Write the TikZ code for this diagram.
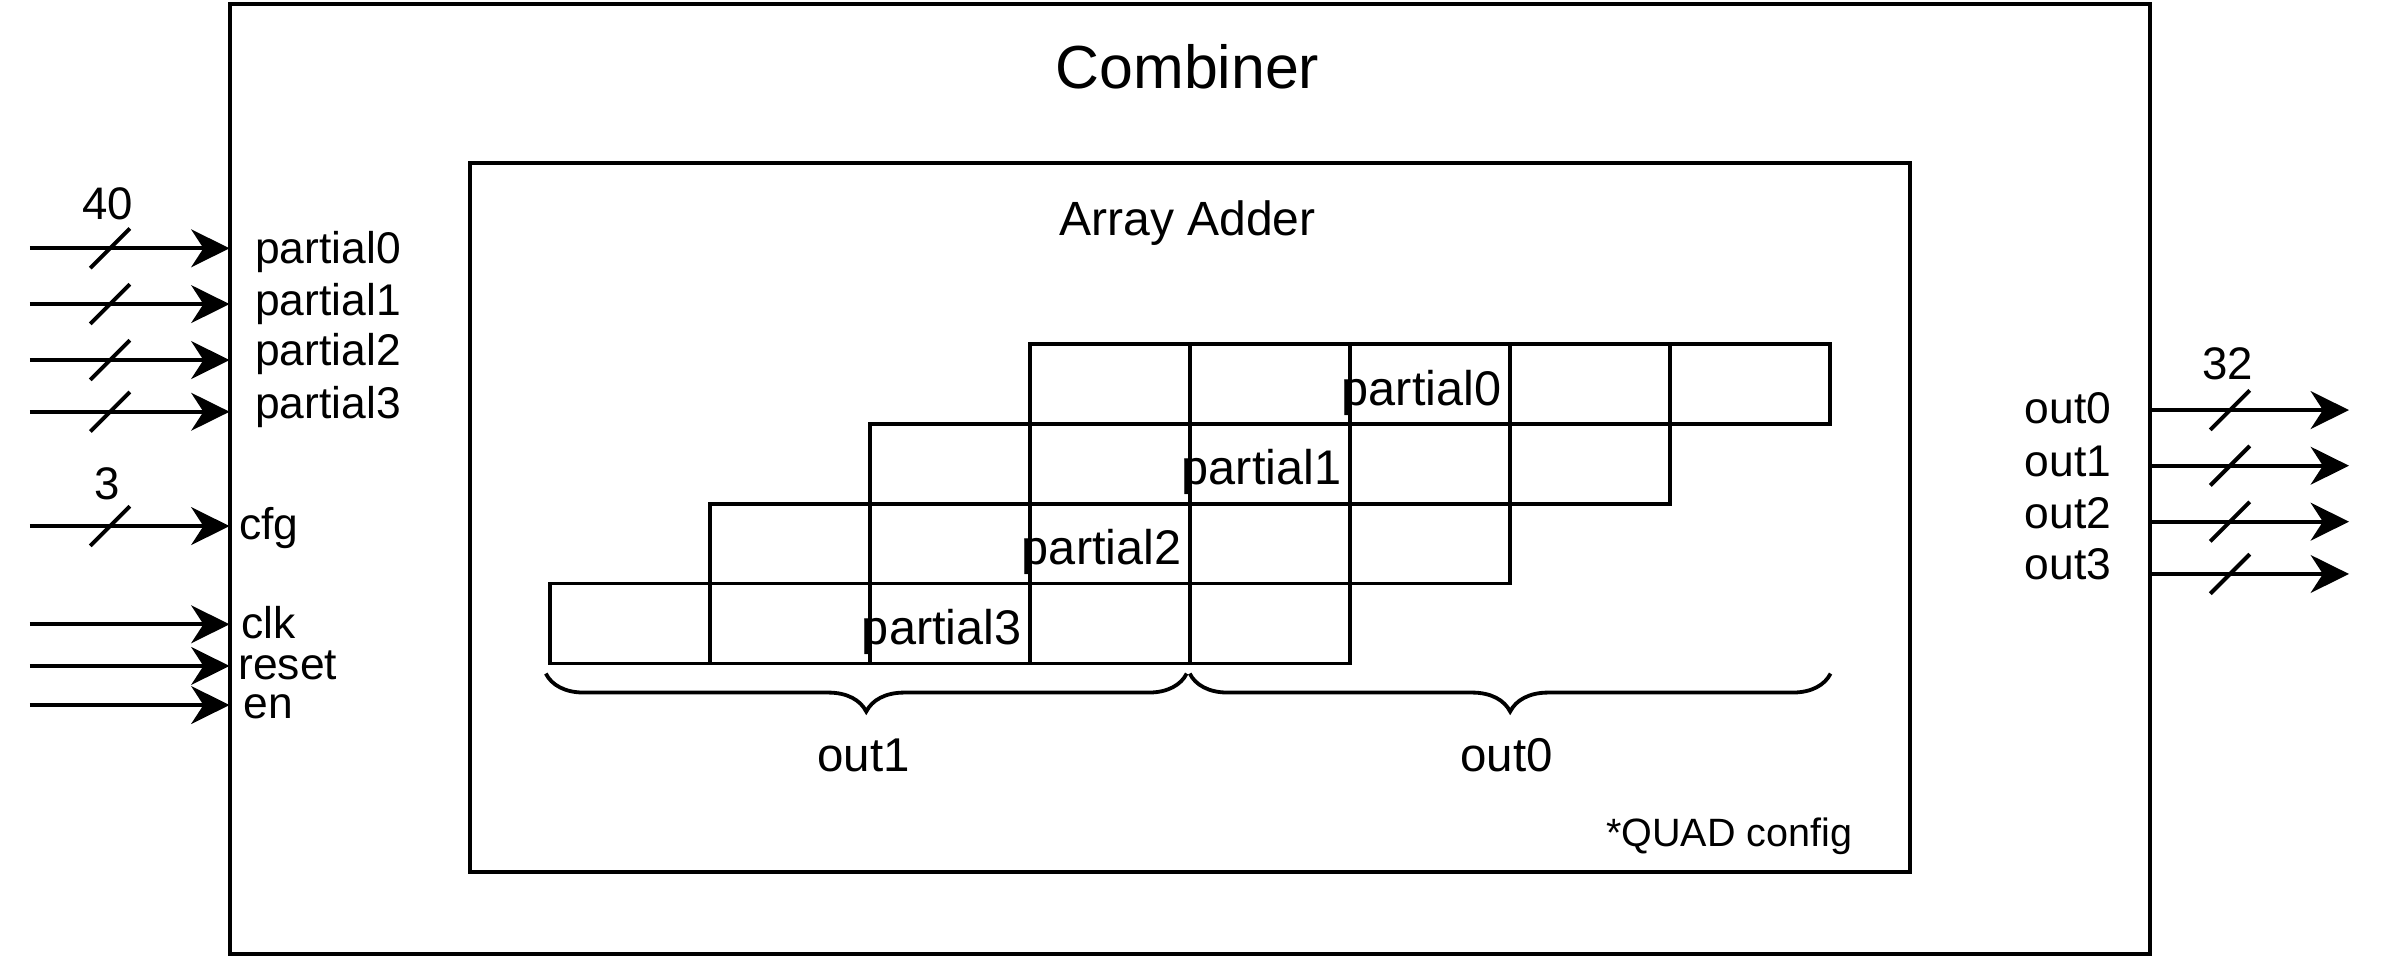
\documentclass[tikz,border=0pt]{standalone}
\usepackage{fontspec}
\setmainfont{Liberation Sans}
\usetikzlibrary{arrows.meta,decorations.pathreplacing}

\begin{document}
\begin{tikzpicture}[
    x=0.5pt, y=-0.5pt,
    box/.style={rectangle, draw=black, line width=1.3pt, inner sep=0pt, outer sep=0pt},
    cell/.style={rectangle, draw=black, line width=1.2pt, minimum width=52.6pt, minimum height=26.25pt, inner sep=0pt, outer sep=0pt},
    wire/.style={-{Stealth[length=12.6pt, width=12.4pt, inset=4pt]}, line width=1.3pt},
    slash/.style={line width=1.3pt},
    brace/.style={decorate, decoration={brace, amplitude=12.5pt}, line width=1.25pt},
    lbl/.style={font=\fontsize{14.6pt}{17pt}\selectfont, inner sep=0pt},
    num/.style={font=\fontsize{15pt}{17pt}\selectfont, inner sep=0pt},
    celltext/.style={font=\fontsize{16pt}{19pt}\selectfont, inner sep=0pt}
]
    \useasboundingbox (0,0) rectangle (1568,628.8);

    % Outer block: Combiner
    \node [box, minimum width=631.5pt, minimum height=312.6pt] (comb) at (782.5,315.1) {};
    \node [anchor=base, inner sep=0pt, font=\fontsize{20pt}{24pt}\selectfont] (combtitle) at (781,58.5) {Combiner};

    % Inner block: Array Adder
    \node [box, minimum width=473.65pt, minimum height=233.05pt] (adder) at (782.65,340.25) {};
    \node [anchor=base, inner sep=0pt, font=\fontsize{15.8pt}{19pt}\selectfont] (addertitle) at (781,154.6) {Array Adder};

    % Shifted rows of partial sums
    \foreach \r in {0,...,3}
        \foreach \c in {0,...,4}
            \node [cell] (c\r\c) at ({361.9+105.2*(3-\r+\c)+52.6},{226.3+52.5*\r+26.25}) {};
    \foreach \r in {0,...,3}
        \node [celltext, anchor=base] (pl\r) at ({361.9+105.2*(5-\r)+47.1},{226.3+52.5*\r+40.1}) {partial\r};

    % Output halves
    \draw [brace] (780.5,443) -- (359,443);
    \draw [brace] (1204,443) -- (782.5,443);
    \node [celltext, anchor=base, font=\fontsize{15.6pt}{19pt}\selectfont] (bo1) at (568,507.5) {out1};
    \node [celltext, anchor=base, font=\fontsize{15.6pt}{19pt}\selectfont] (bo0) at (991,507.5) {out0};
    \node [anchor=base east, inner sep=0pt, font=\fontsize{13pt}{15pt}\selectfont] (quad) at (1218.6,557) {*QUAD config};

    % Inputs
    \foreach \n/\y/\lx/\ly/\t in {ip0/163.3/167.4/173/partial0, ip1/200/167.4/207.2/partial1, ip2/236.8/167.4/240.6/partial2, ip3/270.8/167.4/275.1/partial3, icfg/346/156.8/354.7/cfg, iclk/410.6/158.5/420/clk, irst/438/156.4/446.8/reset, ien/463.7/159.9/472.5/en} {
        \coordinate (\n) at (19.7,\y);
        \node [lbl, anchor=base west] (l\n) at (\lx,\ly) {\t};
        \draw [wire] (\n) -- (comb.west |- \n);
    }
    \foreach \y in {163.3,200,236.8,270.8,346}
        \draw [slash] (59.4,{\y+13}) -- (85.4,{\y-13});
    \node [num, anchor=base] (w40) at (70.9,144.3) {40};
    \node [num, anchor=base] (w3) at (70.7,328.4) {3};

    % Outputs
    \foreach \n/\y/\ly/\t in {o0/269.7/278.4/out0, o1/306.3/313.1/out1, o2/343.1/347.5/out2, o3/377.5/381/out3} {
        \coordinate (\n) at (1545,\y);
        \node [lbl, anchor=base east] (l\n) at (1389,\ly) {\t};
        \draw [wire] (comb.east |- \n) -- (\n);
        \draw [slash] (1453.7,{\y+13}) -- (1479.7,{\y-13});
    }
    \node [num, anchor=base] (w32) at (1465,249.5) {32};
\end{tikzpicture}
\end{document}
